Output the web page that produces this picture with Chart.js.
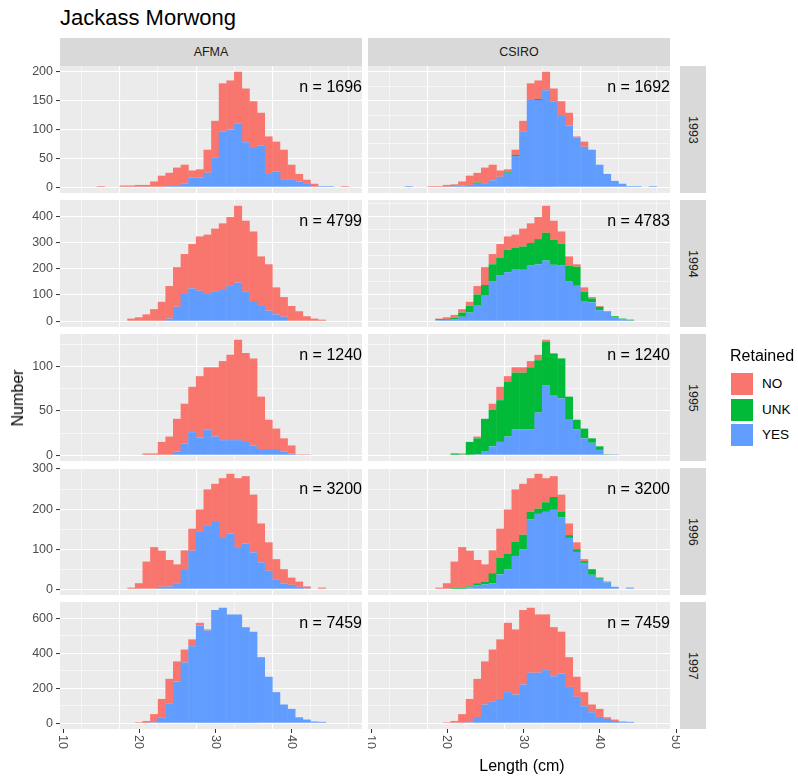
<!DOCTYPE html>
<html>
<head>
<meta charset="utf-8">
<script src="https://cdn.jsdelivr.net/npm/chart.js@4.4.1/dist/chart.umd.min.js"></script>
<style>
  html, body { margin: 0; padding: 0; background: #ffffff; }
  #wrap { position: relative; width: 798px; height: 776px; overflow: hidden;
          font-family: "Liberation Sans", Arial, sans-serif; }
  .abs { position: absolute; white-space: nowrap; }
  .strip { position: absolute; background: #d9d9d9; color: #1a1a1a; font-size: 12.5px;
           display: flex; align-items: center; justify-content: center; }
  .vstrip { writing-mode: vertical-rl; }
  .nlab { position: absolute; font-size: 16px; line-height: 20px; height: 20px; color: #000; text-align: right; }
  .key { position: absolute; width: 22px; height: 22px; }
  .keylab { position: absolute; font-size: 13.5px; line-height: 22px; color: #000; }
</style>
</head>
<body>
<div id="wrap"></div>
<script>
// Length bins (cm, bin centres, 1 cm wide)
const binMid = [12,13,14,15,16,17,18,19,20,21,22,23,24,25,26,27,28,29,30,31,32,33,34,35,36,37,38,39,40,41,42,43,44,45,46,47];

// Facet labels
const sources = ['AFMA', 'CSIRO'];
const years = ['1993', '1994', '1995', '1996', '1997'];
const nAfma = ['1696', '4799', '1240', '3200', '7459'];
const nCsiro = ['1692', '4783', '1240', '3200', '7459'];
const yMajorStep = [50, 100, 50, 100, 200];
const xMajorTicks = [10, 20, 30, 40, 50];

// Counts per bin, by retention status
const afma1993Yes = [0,0,0,0,0,0,0,0,0,0,0,0,2,2,6,17,17,25,51,97,100,110,78,68,72,23,27,14,14,10,7,1,2,2,0,0];
const afma1993No  = [0,0,0,2,0,0,3,3,4,4,10,20,23,32,33,12,14,40,64,83,85,90,93,81,57,65,52,51,25,13,6,5,0,0,0,2];
const csiro1993Yes = [0,0,0,2,0,0,0,0,0,2,3,4,6,7,12,18,25,54,96,151,151,168,149,125,107,86,70,65,39,23,11,6,2,2,0,2];
const csiro1993Unk = [0,0,0,0,0,0,0,0,0,0,0,0,2,0,0,0,2,2,0,0,2,0,0,0,0,0,0,0,0,0,0,0,0,0,0,0];
const csiro1993No  = [0,0,0,0,0,0,2,2,4,3,7,16,17,27,27,11,4,9,19,29,32,32,22,24,22,2,9,0,0,0,0,0,0,0,0,0];

const afma1994Yes = [0,0,0,0,0,0,0,0,0,0,0,0,10,55,104,125,116,104,112,119,134,147,112,77,58,40,26,17,0,0,0,0,0,0,0,0];
const afma1994No  = [0,0,0,0,0,0,0,10,15,26,46,74,124,151,152,169,207,226,241,254,263,293,271,265,189,177,103,75,58,38,19,10,6,0,0,0];
const csiro1994Yes = [0,0,0,0,0,0,0,4,5,8,17,33,59,100,153,176,187,199,196,212,217,231,215,212,151,135,77,72,42,36,16,8,3,0,0,0];
const csiro1994Unk = [0,0,0,0,0,0,0,4,3,5,16,26,43,38,64,67,85,80,89,86,96,106,96,83,61,73,35,15,13,2,3,2,3,0,0,0];
const csiro1994No  = [0,0,0,0,0,0,0,2,7,11,13,15,32,68,39,51,51,51,68,75,84,103,72,47,35,9,17,5,3,0,0,0,0,0,0,0];

const afma1995Yes = [0,0,0,0,0,0,0,0,0,0,0,0,0,4,13,26,20,29,21,17,17,17,15,11,7,7,7,4,2,0,0,0,0,0,0,0];
const afma1995No  = [0,0,0,0,0,0,0,0,0,2,2,15,21,37,45,51,69,70,78,89,96,113,100,98,59,33,23,15,9,1,1,0,0,0,0,0];
const csiro1995Yes = [0,0,0,0,0,0,0,0,0,0,0,0,1,4,10,15,21,29,29,29,48,79,67,64,40,29,19,14,6,0,1,0,0,0,0,0];
const csiro1995Unk = [0,0,0,0,0,0,0,0,0,2,1,15,18,37,41,47,62,64,64,70,59,49,47,45,26,11,11,5,4,1,0,0,0,0,0,0];
const csiro1995No  = [0,0,0,0,0,0,0,0,0,0,1,0,2,0,7,15,6,6,6,7,6,2,1,0,0,0,0,0,0,0,0,0,0,0,0,0];

const afma1996Yes = [0,0,0,0,0,0,0,0,0,0,0,6,7,15,48,96,143,158,170,130,139,105,114,92,67,46,25,14,11,6,2,0,0,0,0,0];
const afma1996No  = [0,0,0,0,0,0,0,4,15,69,105,90,66,47,49,55,56,91,93,147,149,172,168,144,97,71,50,36,18,13,5,0,4,0,0,0];
const csiro1996Yes = [0,0,0,0,0,0,0,0,0,0,0,5,9,12,15,37,50,83,100,174,188,193,198,180,128,93,64,36,26,17,6,0,4,0,0,0];
const csiro1996Unk = [0,0,0,0,0,0,0,0,0,4,4,2,6,7,25,42,39,35,36,19,13,24,32,14,7,7,6,14,3,2,0,0,0,0,0,0];
const csiro1996No  = [0,0,0,0,0,0,0,4,15,65,101,89,58,43,57,72,110,131,127,84,87,60,52,42,29,17,5,0,0,0,0,0,0,0,0,0];

const afma1997Yes = [0,0,0,0,0,0,0,0,0,0,6,31,111,239,348,441,560,531,648,661,623,623,550,524,378,266,178,107,82,34,21,10,8,0,0,0];
const afma1997No  = [0,0,0,0,0,0,0,0,6,13,46,108,143,115,74,39,15,6,0,0,0,0,0,0,0,0,0,0,0,0,0,0,0,0,0,0];
const csiro1997Yes = [0,0,0,0,0,0,0,0,0,0,0,6,36,107,126,139,178,164,222,289,289,304,269,285,208,151,97,63,36,25,13,10,8,0,0,0];
const csiro1997Unk = [0,0,0,0,0,0,0,0,0,0,0,0,0,0,0,0,0,0,0,0,0,0,0,0,0,0,0,0,0,0,0,0,0,0,0,0];
const csiro1997No  = [0,0,0,0,0,0,0,0,6,13,52,133,218,247,296,341,397,373,426,372,334,319,281,239,170,115,81,44,46,9,8,0,0,0,0,0];

// Panel table: [row][col] -> series
const panelSeries = [
  [{ yes: afma1993Yes, unk: null, no: afma1993No }, { yes: csiro1993Yes, unk: csiro1993Unk, no: csiro1993No }],
  [{ yes: afma1994Yes, unk: null, no: afma1994No }, { yes: csiro1994Yes, unk: csiro1994Unk, no: csiro1994No }],
  [{ yes: afma1995Yes, unk: null, no: afma1995No }, { yes: csiro1995Yes, unk: csiro1995Unk, no: csiro1995No }],
  [{ yes: afma1996Yes, unk: null, no: afma1996No }, { yes: csiro1996Yes, unk: csiro1996Unk, no: csiro1996No }],
  [{ yes: afma1997Yes, unk: null, no: afma1997No }, { yes: csiro1997Yes, unk: csiro1997Unk, no: csiro1997No }]
];

const COLORS = { NO: '#F8766D', UNK: '#00BA38', YES: '#619CFF' };

// Layout of the facet grid
const colLeft = [60, 368];
const rowTop = [66, 200, 334, 468, 602];
const PANEL_W = 302, PANEL_H = 127;
const X_MIN = 9.65, X_MAX = 49.25;
const TOP_PAD = 8;      // room above the panel for the top y label
const RIGHT_PAD = 10;   // room right of the last bottom panel, where the 50 label gets cut off
const FONT = '"Liberation Sans", Arial, sans-serif';

const wrap = document.getElementById('wrap');
function addDiv(cls, css, text) {
  const d = document.createElement('div');
  d.className = cls;
  d.style.cssText = css;
  if (text !== undefined) d.textContent = text;
  wrap.appendChild(d);
  return d;
}

// grey panel background
const panelBg = {
  id: 'panelBg',
  beforeDraw(chart) {
    const { ctx, chartArea: a } = chart;
    ctx.save();
    ctx.fillStyle = '#ebebeb';
    ctx.fillRect(a.left, a.top, a.right - a.left, a.bottom - a.top);
    ctx.restore();
  }
};

// x tick labels turned 90 degrees clockwise, with their tick marks
const xLabelsDown = {
  id: 'xLabelsDown',
  afterDraw(chart, args, opts) {
    if (!opts.show) return;
    const sc = chart.scales.x;
    const ctx = chart.ctx;
    const y0 = chart.chartArea.bottom;
    ctx.save();
    ctx.font = '12.5px ' + FONT;
    ctx.fillStyle = '#4d4d4d';
    ctx.strokeStyle = '#333333';
    ctx.lineWidth = 1;
    ctx.textAlign = 'left';
    ctx.textBaseline = 'middle';
    xMajorTicks.forEach(v => {
      const x = sc.getPixelForValue(v);
      const xa = Math.round(x) + 0.5;
      ctx.beginPath();
      ctx.moveTo(xa, y0);
      ctx.lineTo(xa, y0 + 4);
      ctx.stroke();
      ctx.save();
      ctx.translate(x, y0 + 6);
      ctx.rotate(Math.PI / 2);
      ctx.fillText(String(v), 0, 0);
      ctx.restore();
    });
    ctx.restore();
  }
};

function rowMax(r) {
  let m = 0;
  panelSeries[r].forEach(s => {
    binMid.forEach((b, i) => {
      const t = s.yes[i] + (s.unk ? s.unk[i] : 0) + s.no[i];
      if (t > m) m = t;
    });
  });
  return m;
}

function toPoints(arr) {
  const pts = [];
  if (!arr) return pts;
  binMid.forEach((b, i) => { if (arr[i] > 0) pts.push({ x: b, y: arr[i] }); });
  return pts;
}

function makePanel(r, c) {
  const isLeft = c === 0, isBottom = r === rowTop.length - 1;
  const yAxisW = isLeft ? 60 : 0;
  const xAxisH = isBottom ? 40 : 0;
  const rightPad = (isBottom && c === 1) ? RIGHT_PAD : 0;
  const canvas = document.createElement('canvas');
  canvas.width = PANEL_W + yAxisW + rightPad;
  canvas.height = PANEL_H + xAxisH + TOP_PAD;
  canvas.style.cssText = `position:absolute;left:${colLeft[c] - yAxisW}px;top:${rowTop[r] - TOP_PAD}px;` +
                         `width:${canvas.width}px;height:${canvas.height}px;`;
  wrap.appendChild(canvas);

  const s = panelSeries[r][c];
  const maxT = rowMax(r);
  const major = yMajorStep[r];
  const minor = major / 2;

  new Chart(canvas, {
    type: 'bar',
    data: {
      datasets: [
        { label: 'YES', data: toPoints(s.yes), backgroundColor: COLORS.YES },
        { label: 'UNK', data: toPoints(s.unk), backgroundColor: COLORS.UNK },
        { label: 'NO',  data: toPoints(s.no),  backgroundColor: COLORS.NO }
      ]
    },
    options: {
      responsive: false,
      maintainAspectRatio: false,
      animation: false,
      devicePixelRatio: 1,
      layout: { padding: { top: TOP_PAD, right: rightPad, left: 0, bottom: 0 } },
      events: [],
      datasets: { bar: { barPercentage: 1.06, categoryPercentage: 1, borderWidth: 0 } },
      plugins: {
        legend: { display: false },
        tooltip: { enabled: false },
        xLabelsDown: { show: isBottom }
      },
      scales: {
        x: {
          type: 'linear', min: X_MIN, max: X_MAX, stacked: true, offset: false,
          border: { display: false },
          ticks: { display: false, stepSize: 5, includeBounds: false, maxTicksLimit: 100 },
          grid: {
            color: '#ffffff',
            lineWidth: ctx => (ctx.tick && ctx.tick.value % 10 === 0) ? 1.1 : 0.55,
            drawTicks: false
          },
          afterFit: sc => { sc.height = xAxisH; sc.paddingLeft = 0; sc.paddingRight = 0; }
        },
        y: {
          min: -0.05 * maxT, max: 1.05 * maxT, stacked: true,
          border: { display: false },
          ticks: {
            display: isLeft, stepSize: minor, includeBounds: false, maxTicksLimit: 100,
            color: '#4d4d4d', font: { family: FONT, size: 12.5 }, padding: 3,
            callback: v => (v % major === 0) ? String(v) : ''
          },
          grid: {
            color: '#ffffff',
            lineWidth: ctx => (ctx.tick && ctx.tick.value % major === 0) ? 1.1 : 0.55,
            drawTicks: isLeft, tickLength: 4, tickWidth: 1,
            tickColor: ctx => (ctx.tick && ctx.tick.value % major === 0) ? '#333333' : 'rgba(0,0,0,0)'
          },
          afterFit: sc => { sc.width = yAxisW; sc.paddingTop = 0; sc.paddingBottom = 0; }
        }
      }
    },
    plugins: [panelBg, xLabelsDown]
  });

  // sample size in the top right corner
  const nTxt = 'n = ' + (c === 0 ? nAfma[r] : nCsiro[r]);
  addDiv('nlab', `right:${798 - (colLeft[c] + PANEL_W)}px;top:${rowTop[r] + 11}px;`, nTxt);
}

// title
addDiv('abs', `left:60px;top:7px;font-size:22px;line-height:22px;color:#000;`, 'Jackass Morwong');

// column strips
sources.forEach((src, c) => {
  addDiv('strip', `left:${colLeft[c]}px;top:38px;width:${PANEL_W}px;height:28px;`, src);
});
// row strips
years.forEach((yr, r) => {
  addDiv('strip vstrip', `left:680px;top:${rowTop[r]}px;width:26px;height:${PANEL_H}px;`, yr);
});

for (let r = 0; r < rowTop.length; r++) {
  for (let c = 0; c < 2; c++) makePanel(r, c);
}

// axis titles
addDiv('abs', `left:18px;top:398px;font-size:16px;line-height:16px;color:#000;transform:translate(-50%,-50%) rotate(-90deg);`, 'Number');
addDiv('abs', `left:522px;top:766px;font-size:16px;line-height:16px;color:#000;transform:translate(-50%,-50%);`, 'Length (cm)');

// legend
addDiv('abs', `left:730px;top:347px;font-size:16px;line-height:18px;color:#000;`, 'Retained');
const legendItems = ['NO', 'UNK', 'YES'];
const legendTops = [373, 398.5, 424];
legendItems.forEach((k, i) => {
  addDiv('key', `left:731px;top:${legendTops[i]}px;background:${COLORS[k]};`);
  addDiv('keylab', `left:762px;top:${legendTops[i]}px;`, k);
});
</script>
</body>
</html>
